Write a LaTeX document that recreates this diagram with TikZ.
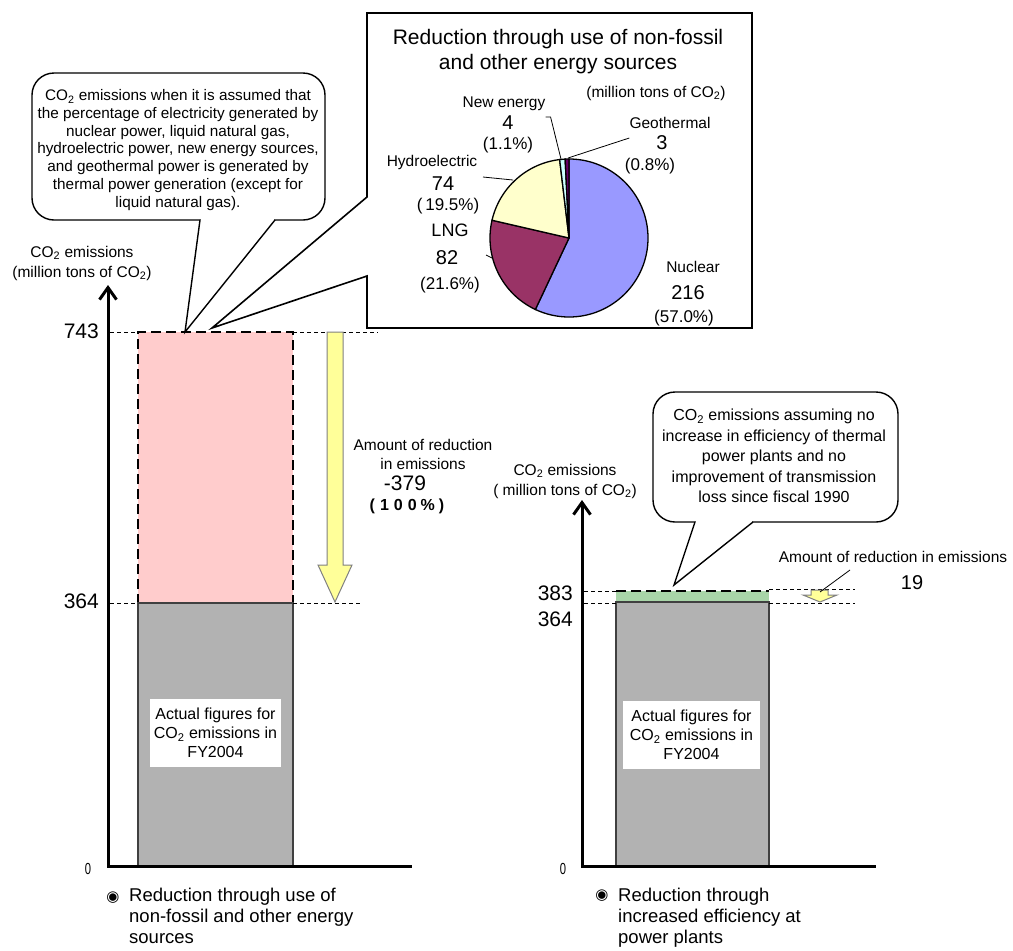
\documentclass[tikz,border=0pt]{standalone}
\usepackage{fontspec}
\setmainfont{Liberation Sans}
\newfontfamily\bulletfont{DejaVu Sans}
\usetikzlibrary{arrows.meta}

\definecolor{nuclear}{HTML}{9999FF}
\definecolor{lng}{HTML}{993366}
\definecolor{hydro}{HTML}{FFFFCC}
\definecolor{newen}{HTML}{CCFFFF}
\definecolor{geo}{HTML}{660066}
\definecolor{cutfill}{HTML}{FFCCCC}
\definecolor{efffill}{HTML}{A8D5A8}
\definecolor{actual}{HTML}{B2B2B2}
\definecolor{downfill}{HTML}{FFFF99}

\newcommand{\COtwo}{CO\textsubscript{2}}

\begin{document}
\begin{tikzpicture}[x=1pt,y=-1pt,
    every node/.style={inner sep=0pt},
    small/.style={font=\fontsize{15.5}{20}\selectfont,align=center},
    tick/.style={font=\fontsize{21}{24}\selectfont},
    num/.style={font=\fontsize{20}{22}\selectfont},
    pct/.style={font=\fontsize{17}{20}\selectfont},
    axis/.style={line width=3pt},
    guide/.style={line width=0.9pt,dash pattern=on 4pt off 3pt},
    edge/.style={line width=2pt,dash pattern=on 10pt off 5pt},
    bar/.style={draw=black!75,line width=1.2pt,fill=actual},
    callout/.style={draw,line width=1.4pt,fill=white},
    wedge/.style={draw,line width=1.3pt},
    leader/.style={line width=0.8pt},
    downarrow/.style={draw=gray,line width=1pt,fill=downfill}]
  \useasboundingbox (0,0) rectangle (1013,951);

  % left chart: non-fossil sources
  \fill[cutfill] (138,332) rectangle (293,604);
  \draw[edge] (138,604) -- (138,332) -- (293,332) -- (293,604);
  \draw[bar] (138,866) rectangle (293,603);
  \draw[axis,{Straight Barb[length=12pt,width=17pt]}-] (108,285) -- (108,866) -- (412,866);
  \draw[guide] (110,332) -- (138,332);
  \draw[guide] (293,332) -- (378,332);
  \draw[guide] (110,603) -- (138,603);
  \draw[guide] (293,603) -- (360,603);

  \node[small] (ylab1) at (82,263) {\COtwo{} emissions\\(million tons of \COtwo)};
  \node[tick,anchor=east] (v743) at (99,331) {743};
  \node[tick,anchor=east] (v364) at (99,601) {364};
  \node (zero1) at (88,869) {\fontsize{16}{16}\selectfont\scalebox{0.7}[1]{0}};

  \draw[downarrow] (327,332) -- (343,332) -- (343,565) -- (352,565) -- (335,602)
    -- (318,565) -- (327,565) -- cycle;
  \node[small,font=\fontsize{15.5}{19}\selectfont] (amt1) at (423,454) {Amount of reduction\\in emissions};
  \node[num,font=\fontsize{21}{22}\selectfont] (val1) at (405,483) {-379};
  \node[font=\fontsize{16}{18}\selectfont\bfseries] (pc1) at (407,506)
    {(\hspace{5pt}1\hspace{5pt}0\hspace{5pt}0\hspace{4pt}\%\hspace{4pt})};

  \node[fill=white,minimum width=131pt,minimum height=68pt,small,
    font=\fontsize{16}{19}\selectfont] (act1) at (215.5,733)
    {Actual figures for\\\COtwo{} emissions in\\FY2004};

  % callout over the left bar
  \draw[callout,rounded corners=22pt] (32,73) rectangle (325,220);
  \fill[white] (201,217.5) rectangle (274,222.5);
  \fill[white] (200,220) -- (185,332) -- (275,220) -- cycle;
  \draw[line width=1.4pt] (200,220) -- (185,332) -- (275,220);
  \node[small,font=\fontsize{15.3}{17.8}\selectfont] (note1) at (178,150)
    {\COtwo{} emissions when it is assumed that\\the percentage of electricity generated by\\nuclear power, liquid natural gas,\\hydroelectric power, new energy sources,\\and geothermal power is generated by\\thermal power generation (except for\\liquid natural gas).};

  % pie box
  \draw[callout,line width=1.6pt] (367,197) -- (367,13) -- (752,13) -- (752,328)
    -- (367,328) -- (367,276) -- (212,328) -- cycle;
  \node[align=center,font=\fontsize{21}{25}\selectfont] (ptitle) at (558,52)
    {Reduction through use of non-fossil\\and other energy sources};
  \node[small] (punit) at (656,93) {(million tons of \COtwo)};

  \coordinate (pc) at (569,238);
  \filldraw[wedge,fill=nuclear] (pc) -- +(-90:79) arc[start angle=-90,end angle=115.2,radius=79] -- cycle;
  \filldraw[wedge,fill=lng] (pc) -- +(115.2:79) arc[start angle=115.2,end angle=193,radius=79] -- cycle;
  \filldraw[wedge,fill=hydro] (pc) -- +(193:79) arc[start angle=193,end angle=263.2,radius=79] -- cycle;
  \filldraw[wedge,fill=newen] (pc) -- +(263.2:79) arc[start angle=263.2,end angle=267.2,radius=79] -- cycle;
  \filldraw[wedge,fill=geo] (pc) -- +(267.2:79) arc[start angle=267.2,end angle=270,radius=79] -- cycle;

  \node[small] (newname) at (504,104) {New energy};
  \node[num] (newval) at (508,123) {4};
  \node[pct] (newpct) at (508,145) {(1.1\%)};
  \node[small] (geoname) at (670,123) {Geothermal};
  \node[num] (geoval) at (662,143) {3};
  \node[pct] (geopct) at (650,166) {(0.8\%)};
  \node[small] (hydname) at (432,162) {Hydroelectric};
  \node[num] (hydval) at (443,184) {74};
  \node[pct] (hydpct) at (448,206) {(\,19.5\%)};
  \node[font=\fontsize{18}{20}\selectfont] (lngname) at (450,230) {LNG};
  \node[num] (lngval) at (447,258) {82};
  \node[pct] (lngpct) at (450,285) {(21.6\%)};
  \node[small] (nucname) at (693,267) {Nuclear};
  \node[num] (nucval) at (688,293) {216};
  \node[pct] (nucpct) at (684,318) {(57.0\%)};

  \coordinate (newtip) at (561,159);
  \coordinate (geotip) at (568,158);
  \coordinate (hydtip) at (513,180);
  \coordinate (lngtip) at (492,258);
  \draw[leader] (newname.east |- 0,117) -- ++(5,0) -- (newtip);
  \draw[leader] (geoname.west |- 0,138) -- (geotip);
  \draw[leader] (483,177) -- (hydtip);
  \draw[leader] (486,255) -- (lngtip);

  % right chart: power plant efficiency
  \fill[efffill] (616,591) rectangle (769,603);
  \draw[bar] (616,866) rectangle (769,602);
  \draw[edge] (616,591) -- (769,591);
  \draw[axis,{Straight Barb[length=12pt,width=17pt]}-] (582,500) -- (582,866) -- (876,866);
  \draw[guide] (584,591) -- (616,591);
  \draw[guide] (584,603) -- (616,603);
  \draw[guide] (769,589) -- (855,589);
  \draw[guide] (769,603) -- (855,603);

  \node[small] (ylab2) at (565,481) {\COtwo{} emissions\\( million tons of \COtwo)};
  \node[tick,anchor=east] (v383) at (573,593) {383};
  \node[tick,anchor=east] (v364b) at (573,619) {364};
  \node (zero2) at (563,869) {\fontsize{16}{16}\selectfont\scalebox{0.7}[1]{0}};

  \draw[downarrow] (811,590) -- (828,590) -- (828,595) -- (837,595) -- (820,602)
    -- (803,595) -- (811,595) -- cycle;
  \node[small] (amt2) at (893,557) {Amount of reduction in emissions};
  \node[num] (val2) at (912,583) {19};
  \coordinate (amt2tip) at (820,592);
  \draw[leader] (850,570) -- (amt2tip);

  \node[fill=white,minimum width=137pt,minimum height=68pt,small,
    font=\fontsize{16}{19}\selectfont] (act2) at (691.5,735)
    {Actual figures for\\\COtwo{} emissions in\\FY2004};

  % callout over the right bar
  \draw[callout,rounded corners=22pt] (653,392) rectangle (898,522);
  \fill[white] (696,519.5) rectangle (752,524.5);
  \fill[white] (695,522) -- (674,585) -- (753,522) -- cycle;
  \draw[line width=1.4pt] (695,522) -- (674,585) -- (753,522);
  \node[small,font=\fontsize{16}{20.5}\selectfont] (note2) at (774,456)
    {\COtwo{} emissions assuming no\\increase in efficiency of thermal\\power plants and no\\improvement of transmission\\loss since fiscal 1990};

  % captions
  \node (dot1) at (113,898) {\bulletfont\fontsize{15}{15}\selectfont ◉};
  \node[anchor=north west,align=left,font=\fontsize{18.5}{21}\selectfont] (cap1) at (129,888)
    {Reduction through use of\\non-fossil and other energy\\sources};
  \node (dot2) at (602,896) {\bulletfont\fontsize{15}{15}\selectfont ◉};
  \node[anchor=north west,align=left,font=\fontsize{18.5}{21}\selectfont] (cap2) at (618,888)
    {Reduction through\\increased efficiency at\\power plants};
\end{tikzpicture}
\end{document}
